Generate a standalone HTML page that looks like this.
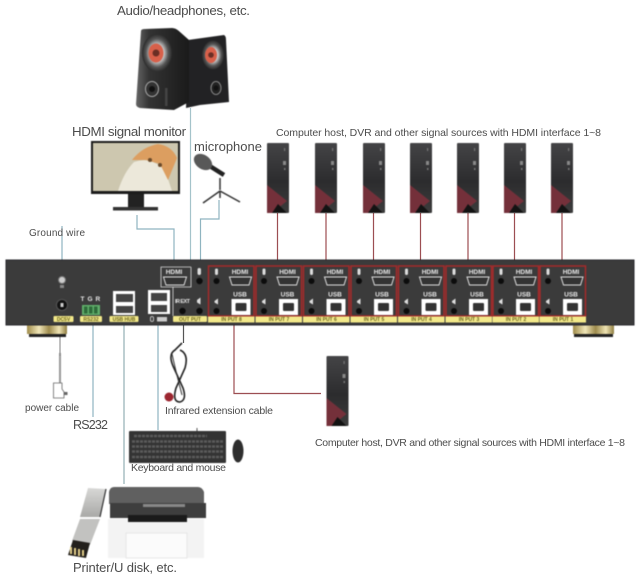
<!DOCTYPE html>
<html><head><meta charset="utf-8"><style>
html,body{margin:0;padding:0;background:#fff}
svg{display:block}
text{font-family:"Liberation Sans",sans-serif;fill:#4c4c4c}
.w{fill:#e8e8e8;font-weight:bold}
.y{fill:#6a6420;font-size:5px;font-weight:bold;text-anchor:middle}
.soft{filter:blur(.4px)}
</style></head><body>
<svg xmlns="http://www.w3.org/2000/svg" width="640" height="578" viewBox="0 0 640 578">
<defs>
<linearGradient id="pc" x1="0" y1="0" x2="0" y2="1"><stop offset="0" stop-color="#444446"/><stop offset=".55" stop-color="#2c2c2e"/><stop offset="1" stop-color="#3c3c3c"/></linearGradient>
<linearGradient id="gold" x1="0" y1="0" x2="1" y2="0"><stop offset="0" stop-color="#a08c4a"/><stop offset=".3" stop-color="#f0e6b8"/><stop offset=".55" stop-color="#9d8a4c"/><stop offset=".8" stop-color="#efe4b4"/><stop offset="1" stop-color="#8f7d40"/></linearGradient>
<linearGradient id="spk" x1="0" y1="0" x2="1" y2="0"><stop offset="0" stop-color="#666"/><stop offset=".25" stop-color="#333"/><stop offset="1" stop-color="#1a1a1a"/></linearGradient>
<linearGradient id="usbm" x1="0" y1="0" x2="0" y2="1"><stop offset="0" stop-color="#d8d8d6"/><stop offset="1" stop-color="#a9a9a7"/></linearGradient>
<radialGradient id="ring"><stop offset=".45" stop-color="#c8c8c8"/><stop offset=".75" stop-color="#555"/><stop offset="1" stop-color="#2a2a2a"/></radialGradient>
<g id="host">
<rect x="0" y="0" width="22" height="70" rx="1" fill="url(#pc)"/>
<polygon points="0,42 20,58 5,70 0,70" fill="#74303a"/>
<polygon points="5,70 11,61 20,70" fill="#131313"/>
<rect x="17" y="5" width="1.200" height="3" fill="#777"/><rect x="16" y="18" width="3" height="4" fill="#888"/><rect x="17" y="25" width="1.500" height="2" fill="#777"/>
</g>
<g id="input">
<rect x="0" y="0" width="45.500" height="50" fill="none" stroke="#a52a2a" stroke-width="1.500"/>
<rect x="-.5" y="50.500" width="46.500" height="6" fill="#f3e98a"/>
<rect x="6.500" y="2.500" width="3" height="6.500" rx="1.500" fill="#ddd"/>
<circle cx="8" cy="15" r="3" fill="#0c0c0c"/>
<path d="M21 11h22l-2.500 8h-17z" fill="#333" stroke="#ddd" stroke-width="1"/>
<path d="M6 35l3.500-2.500v6l-3.500-2z" fill="#ddd"/>
<circle cx="8" cy="45" r="3" fill="#0c0c0c"/>
<rect x="23" y="33" width="19" height="16" fill="#fff"/>
<rect x="27" y="37" width="11" height="8" rx="1" fill="#333"/>
</g>
</defs>
<rect width="640" height="578" fill="#fff"/>

<!-- connectors -->
<g fill="none" stroke-width="1.200">
<path d="M62 226V262" stroke="#8fb4c0"/>
<path d="M137 215V229H174V266" stroke="#8fb4c0"/>
<path d="M190.500 108V311H197" stroke="#a4c3ca"/>
<path d="M219 200V219H200.500V266" stroke="#8fb4c0"/>
<g stroke="#9c4e52">
<path d="M277.500 213V266M326 213V266M373.500 213V266M420.500 213V266M468 213V266M514.500 213V266M562 213V266"/>
<path d="M234 322V393.500H321"/>
</g>
<path d="M60 325V356" stroke="#aaa" stroke-width="1.500"/>
<path d="M93 325V417" stroke="#8fb4c0"/>
<path d="M124 325V484" stroke="#a8bfc4" stroke-width="1.500"/>
<path d="M158 325V430" stroke="#8fb4c0"/>
<path d="M183.500 325V343" stroke="#555"/>
</g>

<g class="soft">
<!-- device -->
<rect x="27" y="325" width="40" height="9" fill="url(#gold)"/><rect x="29" y="334" width="37" height="3" fill="#222"/>
<rect x="573" y="325" width="41" height="9" fill="url(#gold)"/><rect x="574" y="334" width="39" height="3" fill="#222"/>
<rect x="6" y="260" width="628" height="65" fill="#3b3b3b" stroke="#2a2a2e" stroke-width="1"/>

<!-- left panel -->
<circle cx="62" cy="280" r="3.500" fill="#ccc" stroke="#777"/>
<rect x="60" y="285" width="4" height="3" fill="#888"/>
<circle cx="62" cy="305" r="5.500" fill="#111" stroke="#555"/>
<rect x="60.500" y="303" width="3" height="4" fill="#ccc"/>
<rect x="53.500" y="316" width="20" height="6" rx="1" fill="#f3e98a"/><text x="63.500" y="321" class="y">DC5V</text>
<text x="80.500" y="301" font-size="6.500" class="w">T</text><text x="87.500" y="301" font-size="6.500" class="w">G</text><text x="95.500" y="301" font-size="6.500" class="w">R</text>
<rect x="82" y="305" width="18" height="10" fill="#5fae6a"/>
<rect x="84" y="306.500" width="3.500" height="7" fill="#2e6a3a"/><rect x="89" y="306.500" width="3.500" height="7" fill="#2e6a3a"/><rect x="94" y="306.500" width="3.500" height="7" fill="#2e6a3a"/>
<rect x="80" y="316" width="22" height="6" rx="1" fill="#f3e98a"/><text x="91" y="321" class="y">RS232</text>
<rect x="113" y="291" width="22" height="24" fill="#fff"/>
<rect x="116" y="294" width="17" height="8" fill="#444"/><rect x="116" y="306" width="17" height="7" fill="#444"/>
<rect x="109.500" y="316" width="29" height="6" rx="1" fill="#f3e98a"/><text x="124" y="321" class="y">USB HUB</text>
<rect x="148" y="290" width="22" height="24" fill="#fff"/>
<rect x="151" y="293" width="16" height="8" fill="#444"/><rect x="151" y="305" width="16" height="7" fill="#444"/>
<rect x="150.500" y="316.500" width="3" height="5" rx="1.500" fill="none" stroke="#ddd" stroke-width=".8"/>
<rect x="157" y="317" width="10" height="4.500" fill="#ccc"/>

<!-- output -->
<path d="M191 267H161V287H173V316" fill="none" stroke="#ddd" stroke-width=".8"/>
<path d="M173 287H191V267" fill="none" stroke="#ddd" stroke-width=".8"/>
<text x="174" y="274" font-size="6.500" class="w" text-anchor="middle">HDMI</text>
<path d="M163.500 277h23l-2.500 8h-18z" fill="#333" stroke="#ddd"/>
<rect x="197.500" y="268" width="3.500" height="7" rx="1.700" fill="#ddd"/>
<circle cx="199.500" cy="281" r="3.200" fill="#0c0c0c"/>
<text x="175" y="303" font-size="5.500" class="w" textLength="15">IR EXT</text>
<path d="M197 300l3.500-2.500v7l-3.500-2z" fill="#ddd"/>
<circle cx="182.500" cy="311" r="3.200" fill="#0c0c0c"/><circle cx="199.500" cy="311" r="3.200" fill="#0c0c0c"/>
<rect x="173" y="316" width="34" height="6" rx="1" fill="#f3e98a"/><text x="190" y="321" class="y">OUT PUT</text>

<!-- inputs -->
<use href="#input" x="208.500" y="266"/><text x="240" y="274" font-size="6.500" class="w" text-anchor="middle">HDMI</text><text x="240" y="296.500" font-size="6.500" class="w" text-anchor="middle">USB</text><text x="231.500" y="321" class="y">IN PUT 8</text>
<use href="#input" x="256" y="266"/><text x="287.500" y="274" font-size="6.500" class="w" text-anchor="middle">HDMI</text><text x="287.500" y="296.500" font-size="6.500" class="w" text-anchor="middle">USB</text><text x="279" y="321" class="y">IN PUT 7</text>
<use href="#input" x="303.500" y="266"/><text x="335" y="274" font-size="6.500" class="w" text-anchor="middle">HDMI</text><text x="335" y="296.500" font-size="6.500" class="w" text-anchor="middle">USB</text><text x="326.500" y="321" class="y">IN PUT 6</text>
<use href="#input" x="351" y="266"/><text x="382" y="274" font-size="6.500" class="w" text-anchor="middle">HDMI</text><text x="382" y="296.500" font-size="6.500" class="w" text-anchor="middle">USB</text><text x="374" y="321" class="y">IN PUT 5</text>
<use href="#input" x="398.500" y="266"/><text x="430" y="274" font-size="6.500" class="w" text-anchor="middle">HDMI</text><text x="430" y="296.500" font-size="6.500" class="w" text-anchor="middle">USB</text><text x="421.500" y="321" class="y">IN PUT 4</text>
<use href="#input" x="446" y="266"/><text x="477" y="274" font-size="6.500" class="w" text-anchor="middle">HDMI</text><text x="477" y="296.500" font-size="6.500" class="w" text-anchor="middle">USB</text><text x="469" y="321" class="y">IN PUT 3</text>
<use href="#input" x="493" y="266"/><text x="524" y="274" font-size="6.500" class="w" text-anchor="middle">HDMI</text><text x="524" y="296.500" font-size="6.500" class="w" text-anchor="middle">USB</text><text x="516" y="321" class="y">IN PUT 2</text>
<use href="#input" x="540" y="266"/><text x="571" y="274" font-size="6.500" class="w" text-anchor="middle">HDMI</text><text x="571" y="296.500" font-size="6.500" class="w" text-anchor="middle">USB</text><text x="563" y="321" class="y">IN PUT 1</text>

<!-- hosts -->
<use href="#host" x="267" y="143"/><use href="#host" x="315" y="143"/><use href="#host" x="363" y="143"/><use href="#host" x="410" y="143"/><use href="#host" x="457" y="143"/><use href="#host" x="504" y="143"/><use href="#host" x="551" y="143"/>
<use href="#host" x="326.500" y="356"/>

<!-- speakers -->
<path d="M188 40L224 35Q226 36 226 40L229 102L200 105L186 108Z" fill="#222224"/>
<path d="M141 31Q141 29 145 29L172 28Q176 28 180 32L189 40V102L174 110L140 108Q136 107 136 104Z" fill="url(#spk)"/>
<ellipse cx="157" cy="53" rx="15" ry="19" fill="url(#ring)"/><ellipse cx="156" cy="53" rx="7.500" ry="9.500" fill="#d8604a"/><circle cx="156" cy="53" r="3.500" fill="#6a2e24"/>
<ellipse cx="213" cy="55" rx="11" ry="14.500" fill="url(#ring)"/><ellipse cx="211" cy="55" rx="6" ry="8" fill="#d8604a"/><circle cx="211" cy="55" r="2.800" fill="#6a2e24"/>
<ellipse cx="152" cy="89" rx="6.500" ry="7.500" fill="#333" stroke="#aaa"/><circle cx="152" cy="89" r="3" fill="#111"/>
<ellipse cx="216" cy="88" rx="5" ry="6.500" fill="#222" stroke="#888"/><circle cx="216" cy="88" r="2.500" fill="#111"/>
<rect x="165" y="88" width="2.500" height="18" fill="#444"/>

<!-- monitor -->
<rect x="91" y="141" width="89" height="53" fill="#1c1c1c"/>
<rect x="93" y="143" width="85" height="48" fill="#cdc7af"/>
<path d="M118 191Q124 172 134 162Q150 156 165 170L172 191Z" fill="#ece8da"/>
<path d="M132 160Q142 147 158 144Q172 146 177 158L168 180L160 164L146 160Z" fill="#dc9e60"/>
<circle cx="150" cy="160" r="2" fill="#6a4a2a"/><circle cx="160" cy="165" r="2" fill="#6a4a2a"/>
<rect x="128" y="194" width="16" height="13" fill="#222"/>
<rect x="113" y="207" width="45" height="3.500" fill="#333"/>

<!-- mic -->
<path d="M205 163L224 175" stroke="#222" stroke-width="4.500" fill="none"/>
<ellipse cx="203" cy="162" rx="10" ry="7" transform="rotate(35 203 162)" fill="#585858"/>
<path d="M220 178V190M220 191L203 203M220 191L240 202M220 191V198" stroke="#333" stroke-width="1.500" fill="none"/>

<!-- power plug -->
<path d="M60 353V384" stroke="#999" stroke-width="2"/>
<path d="M53.500 383H62V389L64 392V398H53.500Z" fill="#fff" stroke="#666" stroke-width=".8"/>
<rect x="64" y="392" width="3.500" height="3" fill="#666"/>

<!-- IR cable -->
<path d="M182 343L175 350Q168 354 173 366L183 388Q187 400 180 402Q172 402 176 388L185 368Q189 354 180 350" fill="none" stroke="#222" stroke-width="1.600"/>
<path d="M172 354Q176 372 182 395" fill="none" stroke="#333" stroke-width="1"/>
<circle cx="169" cy="397" r="4.500" fill="#9c2630"/>

<!-- keyboard -->
<rect x="129" y="431" width="97" height="32" rx="1" fill="#333"/>
<g fill="none" stroke="#5c5c5c" stroke-width="2.400" stroke-dasharray="3 1">
<path d="M134 436H207M132 441.500H224M132 446.500H224M132 451.500H224M132 457H224"/></g>
<path d="M197 428V431" stroke="#555"/>
<ellipse cx="238" cy="451" rx="5.500" ry="11.500" fill="#2e2e2e"/>

<!-- printer and USB -->
<rect x="108" y="519" width="96" height="39" fill="#f3f3f3"/>
<rect x="126" y="533" width="61" height="25" fill="#fbfbfb" stroke="#e6e6e6"/>
<path d="M109 492Q110 487 114 487H198Q202 487 204 492V504H109Z" fill="#606060"/>
<rect x="110" y="503" width="96" height="15" fill="#3e3e3e"/>
<rect x="143" y="504" width="42" height="3" fill="#888"/>
<rect x="128" y="515" width="59" height="7" fill="#1a1a1a"/>
<polygon points="88,488 106,489 100,517 80,517" fill="url(#usbm)"/>
<path d="M106 489L100 517" stroke="#333" stroke-width="1.200"/>
<polygon points="80,519 100,519 90,545 72,541" fill="#c2c2c0"/>
<polygon points="73,540 90,543 86,558 68,555" fill="#23201c"/>
<g fill="#e3cf8a"><rect x="70" y="547" width="2" height="7"/><rect x="74" y="548" width="2" height="7"/><rect x="78" y="549" width="2" height="7"/><rect x="82" y="550" width="2" height="6"/></g>
</g>

<!-- labels -->
<text x="117" y="15" font-size="13.300" textLength="133">Audio/headphones, etc.</text>
<text x="72" y="136" font-size="13.300" textLength="114">HDMI signal monitor</text>
<text x="194" y="151" font-size="13" textLength="68">microphone</text>
<text x="276" y="136" font-size="10.500" textLength="325">Computer host, DVR and other signal sources with HDMI interface 1~8</text>
<text x="29" y="236" font-size="10" textLength="56">Ground wire</text>
<text x="25" y="411" font-size="10" textLength="54">power cable</text>
<text x="73" y="429" font-size="12.500" textLength="35">RS232</text>
<text x="165" y="414" font-size="10.500" textLength="108">Infrared extension cable</text>
<text x="131" y="471" font-size="10.500" textLength="95">Keyboard and mouse</text>
<text x="73" y="572" font-size="13" textLength="104">Printer/U disk, etc.</text>
<text x="315" y="446" font-size="10.500" textLength="310">Computer host, DVR and other signal sources with HDMI interface 1~8</text>
</svg>
</body></html>
